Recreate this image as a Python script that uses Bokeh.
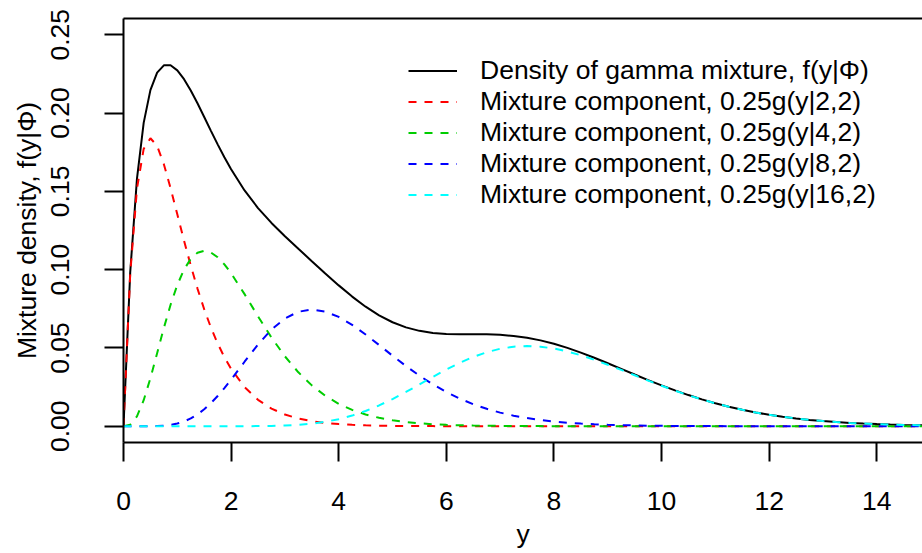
from bokeh.plotting import figure
from bokeh.models import (Range1d, FixedTicker, PrintfTickFormatter, Legend,
                          LegendItem, LinearAxis, Title)
from bokeh.embed import file_html
from bokeh.resources import INLINE

# ---- data ----
y_vals = [0, 0.125, 0.25, 0.375, 0.5, 0.625, 0.75, 0.875, 1.0, 1.125, 1.25,
          1.375, 1.5, 1.625, 1.75, 1.875, 2.0, 2.25, 2.5, 2.75, 3.0, 3.25,
          3.5, 3.75, 4.0, 4.25, 4.5, 4.75, 5.0, 5.25, 5.5, 5.75, 6.0, 6.25,
          6.5, 6.75, 7.0, 7.25, 7.5, 7.75, 8.0, 8.25, 8.5, 8.75, 9.0, 9.25,
          9.5, 9.75, 10.0, 10.25, 10.5, 10.75, 11.0, 11.25, 11.5, 11.75,
          12.0, 12.25, 12.5, 12.75, 13.0, 13.25, 13.5, 13.75, 14.0, 14.25,
          14.5, 14.75, 15.0]

mixture = [0, 0.09836, 0.15795, 0.19376, 0.21464, 0.22584, 0.23049, 0.23053,
           0.22728, 0.22167, 0.21446, 0.20623, 0.19750, 0.18866, 0.18001,
           0.17178, 0.16410, 0.15057, 0.13933, 0.12983, 0.12135, 0.11332,
           0.10542, 0.09758, 0.08995, 0.08278, 0.07634, 0.07083, 0.06641,
           0.06313, 0.06091, 0.05959, 0.05896, 0.05875, 0.05873, 0.05866,
           0.05835, 0.05765, 0.05650, 0.05482, 0.05265, 0.05003, 0.04702,
           0.04371, 0.04023, 0.03662, 0.03302, 0.02948, 0.02609, 0.02288,
           0.01989, 0.01715, 0.01467, 0.01246, 0.01050, 0.00878, 0.00731,
           0.00603, 0.00496, 0.00404, 0.00328, 0.00264, 0.00212, 0.00170,
           0.00135, 0.00107, 0.00084, 0.00066, 0.00051]

comp_2_2 = [0, 0.09735, 0.15163, 0.17714, 0.18394, 0.17907, 0.16735, 0.15205,
            0.13534, 0.11857, 0.10261, 0.08790, 0.07468, 0.06301, 0.05285,
            0.04410, 0.03663, 0.02500, 0.01684, 0.01124, 0.00744, 0.00489,
            0.00319, 0.00207, 0.00134, 0.00086, 0.00056, 0.00036, 0.00023,
            0.00014, 0.00009, 0.00006, 0.00004, 0.00001, 0.00001,
            0, 0, 0, 0, 0, 0, 0, 0, 0, 0, 0, 0, 0, 0, 0, 0, 0,
            0, 0, 0, 0, 0, 0, 0, 0, 0, 0, 0, 0, 0, 0, 0, 0, 0]

comp_4_2 = [0, 0.00101, 0.00632, 0.01661, 0.03066, 0.04663, 0.06276, 0.07761,
            0.09022, 0.10005, 0.10688, 0.11079, 0.11202, 0.11092, 0.10789,
            0.10335, 0.09769, 0.08436, 0.07019, 0.05666, 0.04462, 0.03441,
            0.02607, 0.01944, 0.01431, 0.01041, 0.00750, 0.00535, 0.00378,
            0.00266, 0.00185, 0.00128, 0.00088, 0.00061, 0.00041, 0.00028,
            0.00019, 0.00013, 0.00009, 0.00006, 0.00004, 0.00003, 0.00002,
            0.00001, 0.00001,
            0, 0, 0, 0, 0, 0, 0, 0, 0, 0, 0, 0,
            0, 0, 0, 0, 0, 0, 0, 0, 0, 0, 0, 0]

comp_8_2 = [0, 0, 0.0000005, 0.0000063, 0.0000365, 0.0001355, 0.0003782,
            0.0008665, 0.0017185, 0.0030525, 0.0049703, 0.0075433, 0.010802,
            0.014732, 0.019274, 0.024331, 0.029771, 0.041181, 0.052222,
            0.061725, 0.068840, 0.073115, 0.074501, 0.073241, 0.069793,
            0.064710, 0.058558, 0.051857, 0.045040, 0.038438, 0.032289,
            0.026732, 0.021841, 0.017629, 0.014071, 0.011115, 0.008696,
            0.006743, 0.005185, 0.003956, 0.002997, 0.002255, 0.001685,
            0.001252, 0.000925, 0.000680, 0.000497, 0.000361, 0.000262,
            0.000189, 0.000135, 0.000097, 0.000069, 0.000049, 0.000035,
            0.000024, 0.000017, 0.000012, 0.000009, 0.000006, 0.000004,
            0.000003, 0.000002, 0.000001, 0.000001, 0, 0, 0, 0]

comp_16_2 = [0, 0, 0, 0, 0, 0, 0, 0, 0, 0, 0, 0, 0, 0.0000005, 0.0000017,
             0.0000037, 0.0000075, 0.0000267, 0.0000786, 0.000199, 0.000446,
             0.000898, 0.001655, 0.002826, 0.004513, 0.006796, 0.009715,
             0.013259, 0.017359, 0.021889, 0.026676, 0.031518, 0.036195,
             0.040497, 0.044237, 0.047261, 0.049461, 0.050783, 0.051218,
             0.050802, 0.049609, 0.047738, 0.045310, 0.042451, 0.039287,
             0.035942, 0.032522, 0.029124, 0.025825, 0.022685, 0.019750,
             0.017050, 0.014599, 0.012405, 0.010462, 0.008761, 0.007287,
             0.006022, 0.004946, 0.004037, 0.003277, 0.002644, 0.002123,
             0.001696, 0.001348, 0.001066, 0.000839, 0.000658, 0.000513]

x_ticks = [0, 2, 4, 6, 8, 10, 12, 14]
y_ticks = [0.00, 0.05, 0.10, 0.15, 0.20, 0.25]

x_title = "y"
y_title = "Mixture density, f(y|\u03a6)"
labels = ["Density of gamma mixture, f(y|\u03a6)",
          "Mixture component, 0.25g(y|2,2)",
          "Mixture component, 0.25g(y|4,2)",
          "Mixture component, 0.25g(y|8,2)",
          "Mixture component, 0.25g(y|16,2)"]

for s in (mixture, comp_2_2, comp_4_2, comp_8_2, comp_16_2):
    assert len(s) == len(y_vals), len(s)

FONT = "Liberation Sans"
FS = "26.5px"

p = figure(width=922, height=553,
           x_range=Range1d(0, 14.85), y_range=Range1d(-0.0104, 0.2604),
           output_backend="svg", toolbar_location=None,
           min_border_left=123, min_border_right=0,
           min_border_top=18, min_border_bottom=111,
           y_axis_label=y_title)
p.grid.visible = False
p.outline_line_color = None
p.background_fill_color = "white"
p.border_fill_color = "white"

for ax in (p.xaxis[0], p.yaxis[0]):
    ax.axis_line_color = "black"
    ax.axis_line_width = 2
    ax.major_tick_line_color = "black"
    ax.major_tick_line_width = 2
    ax.major_tick_out = 19
    ax.major_tick_in = 0
    ax.minor_tick_out = 0
    ax.minor_tick_in = 0
    ax.major_label_text_font = FONT
    ax.major_label_text_font_size = FS
    ax.major_label_text_color = "black"
    ax.axis_label_text_font = FONT
    ax.axis_label_text_font_size = FS
    ax.axis_label_text_font_style = "normal"
    ax.axis_label_text_color = "black"

p.xaxis.ticker = FixedTicker(ticks=x_ticks)
p.xaxis.major_label_standoff = 30
p.yaxis.ticker = FixedTicker(ticks=y_ticks)
p.yaxis.formatter = PrintfTickFormatter(format="%.2f")
p.yaxis.major_label_orientation = "vertical"
p.yaxis.major_label_standoff = 35
p.yaxis.axis_label_standoff = 7

top = LinearAxis(ticker=FixedTicker(ticks=[]), axis_line_width=2,
                 axis_line_color="black", major_tick_out=0, major_tick_in=0,
                 minor_tick_out=0, minor_tick_in=0,
                 major_label_text_font_size="0px")
p.add_layout(top, "above")

# x-axis title, centred under the plot region
p.add_layout(Title(text=x_title, align="center", offset=3,
                   text_font=FONT, text_font_size=FS,
                   text_font_style="normal", text_color="black",
                   standoff=8), "below")

DASH = "8 8"
r0 = p.line(y_vals, mixture, line_color="black", line_width=2)
r1 = p.line(y_vals, comp_2_2, line_color="#FF0000", line_width=2, line_dash=DASH)
r2 = p.line(y_vals, comp_4_2, line_color="#00CD00", line_width=2, line_dash=DASH)
r3 = p.line(y_vals, comp_8_2, line_color="#0000FF", line_width=2, line_dash=DASH)
r4 = p.line(y_vals, comp_16_2, line_color="#00FFFF", line_width=2, line_dash=DASH)

legend = Legend(items=[LegendItem(label=l, renderers=[r])
                       for l, r in zip(labels, [r0, r1, r2, r3, r4])],
                location=(285, 232), orientation="vertical",
                label_text_font=FONT, label_text_font_size=FS,
                label_text_color="black",
                glyph_width=49, glyph_height=31, label_height=31,
                spacing=0, padding=0, margin=0, label_standoff=23,
                border_line_color=None, background_fill_alpha=0)
p.add_layout(legend)

open("out.html", "w").write(file_html(p, INLINE))
